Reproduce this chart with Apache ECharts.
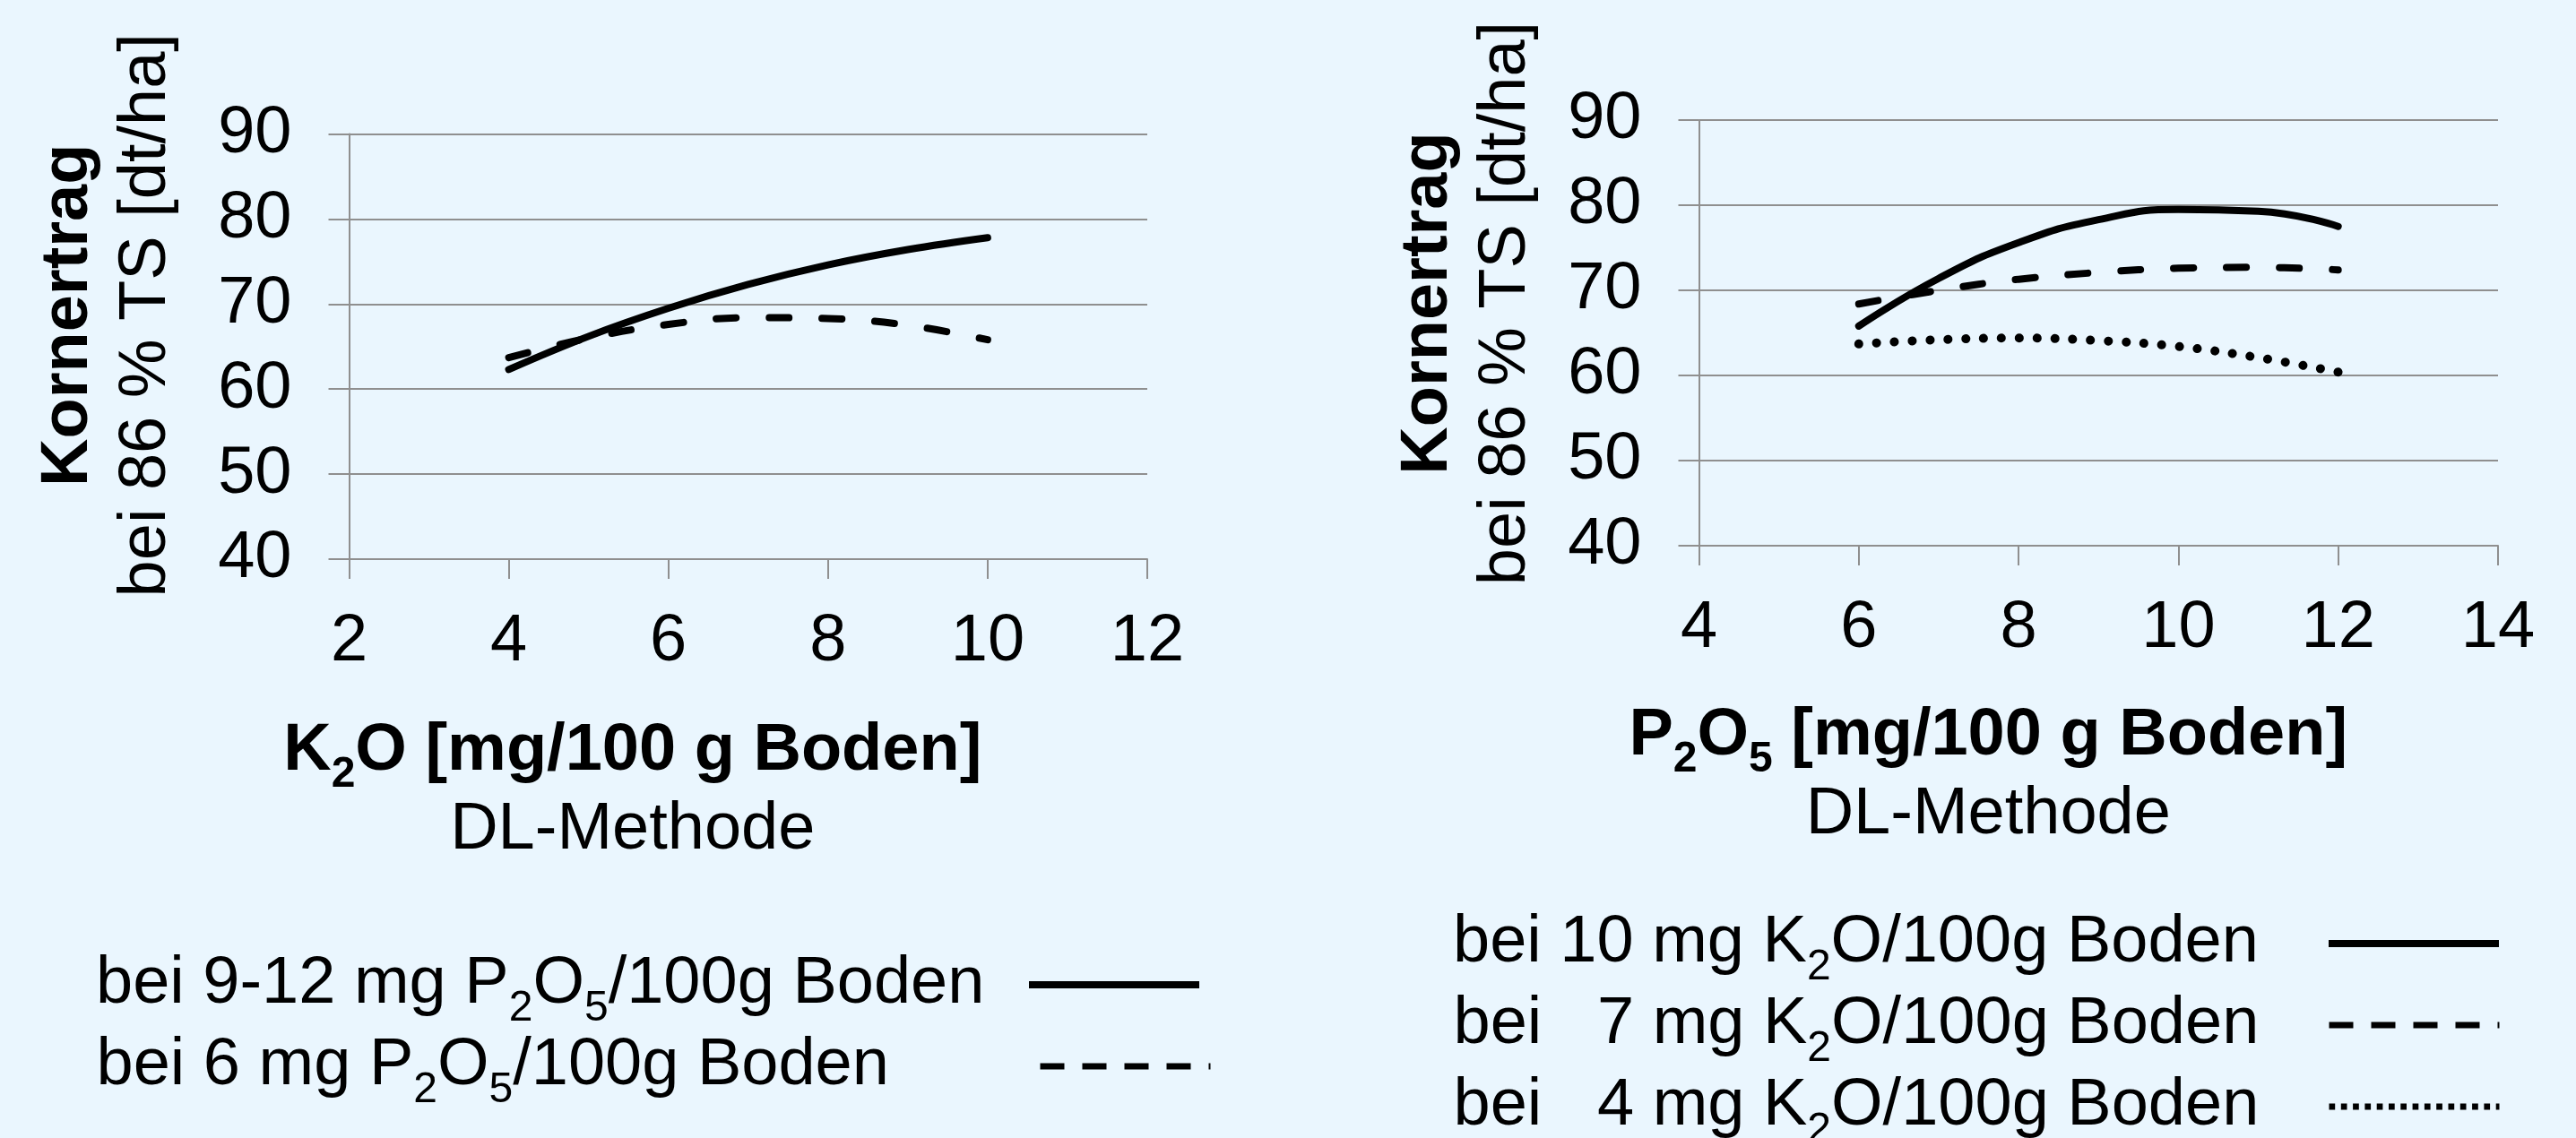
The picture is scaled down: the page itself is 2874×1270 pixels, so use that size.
<!DOCTYPE html>
<html>
<head>
<meta charset="utf-8">
<script src="https://cdn.jsdelivr.net/npm/echarts@6/dist/echarts.min.js"></script>
<style>
html,body{margin:0;padding:0;background:#EAF6FE;}
#c{width:2874px;height:1270px;}
</style>
</head>
<body>
<div id="c"></div>
<script>
// ---- data ----
const k2oLevels = [4, 5, 6, 7, 8, 9, 10];
const yieldHighP = [62.3, 66.2, 69.5, 72.3, 74.6, 76.4, 77.8];
const yieldLowP  = [63.7, 66.0, 67.6, 68.4, 68.3, 67.5, 65.8];

const p2o5Levels = [6, 7, 8, 9, 10, 11, 12];
const yieldK10 = [65.8, 71.4, 75.6, 78.3, 79.5, 79.3, 77.5];
const yieldK7  = [68.4, 70.0, 71.3, 72.1, 72.6, 72.7, 72.4];
const yieldK4  = [63.7, 64.2, 64.4, 64.1, 63.4, 62.1, 60.4];

const yTicks = [40, 50, 60, 70, 80, 90];
const k2oTicks = [2, 4, 6, 8, 10, 12];
const p2o5Ticks = [4, 6, 8, 10, 12, 14];

const namesLeft = ['bei 9-12 mg P2O5/100g Boden', 'bei 6 mg P2O5/100g Boden'];
const namesRight = ['bei 10 mg K2O/100g Boden', 'bei   7 mg K2O/100g Boden', 'bei   4 mg K2O/100g Boden'];
const yTitle = ['Kornertrag', 'bei 86 % TS [dt/ha]'];
const xTitleLeft = ['K2O [mg/100 g Boden]', 'DL-Methode'];
const xTitleRight = ['P2O5 [mg/100 g Boden]', 'DL-Methode'];

// ---- helpers ----
const FONT = '"Liberation Sans", Arial, sans-serif';
const zip = (xs, ys) => xs.map((x, i) => [x, ys[i]]);
// chemical formula: digit after uppercase letter -> subscript token
function richify(s, main, sub) {
  let out = '', buf = '';
  for (let i = 0; i < s.length; i++) {
    const ch = s[i];
    if (/\d/.test(ch) && i > 0 && /[A-Z]/.test(s[i - 1])) {
      if (buf) out += '{' + main + '|' + buf + '}';
      buf = '';
      out += '{' + sub + '|' + ch + '}';
    } else buf += ch;
  }
  if (buf) out += '{' + main + '|' + buf + '}';
  return out;
}

const GRID_COLOR = '#8f8f8f';

function xAxisDef(ticks, title, gridIdx, padRight, gap) {
  return {
    type: 'value', gridIndex: gridIdx,
    min: ticks[0], max: ticks[ticks.length - 1], interval: ticks[1] - ticks[0],
    axisLine: {show: true, onZero: false, lineStyle: {color: GRID_COLOR, width: 2}},
    axisTick: {show: true, length: 22, lineStyle: {color: GRID_COLOR, width: 2}},
    splitLine: {show: false},
    axisLabel: {fontSize: 74, fontFamily: FONT, color: '#000', margin: 56},
    name: richify(title[0], 'b', 'bs') + '\n{n|' + title[1] + '}',
    nameLocation: 'middle', nameGap: gap,
    nameTextStyle: {
      padding: [0, padRight, 0, 0],
      rich: {
        b: {fontSize: 74, fontWeight: 'bold', fontFamily: FONT, color: '#000', lineHeight: 88},
        bs: {fontSize: 48, fontWeight: 'bold', fontFamily: FONT, color: '#000', lineHeight: 36, height: 36, verticalAlign: 'bottom'},
        n: {fontSize: 74, fontFamily: FONT, color: '#000', lineHeight: 88}
      }
    }
  };
}
function yAxisDef(gridIdx, gap, padLeft) {
  return {
    type: 'value', gridIndex: gridIdx,
    min: yTicks[0], max: yTicks[yTicks.length - 1], interval: yTicks[1] - yTicks[0],
    axisLine: {show: true, lineStyle: {color: GRID_COLOR, width: 2}},
    axisTick: {show: true, length: 23, lineStyle: {color: GRID_COLOR, width: 2}},
    splitLine: {show: true, lineStyle: {color: GRID_COLOR, width: 2}},
    axisLabel: {fontSize: 74, fontFamily: FONT, color: '#000', margin: 64},
    name: '{b|' + yTitle[0] + '}\n{n|' + yTitle[1] + '}',
    nameLocation: 'middle', nameRotate: 90, nameGap: gap,
    nameTextStyle: {
      padding: [0, 0, 0, padLeft],
      rich: {
        b: {fontSize: 74, fontWeight: 'bold', fontFamily: FONT, color: '#000', lineHeight: 87},
        n: {fontSize: 74, fontFamily: FONT, color: '#000', lineHeight: 87}
      }
    }
  };
}

const legendRich = {
  t: {fontSize: 74, fontFamily: FONT, color: '#000', lineHeight: 80, align: 'left'},
  s: {fontSize: 48, fontFamily: FONT, color: '#000', lineHeight: 26, height: 26, verticalAlign: 'bottom', align: 'left'}
};
// one legend block per entry, so that each row sits where the reference puts it
function legendDef(item, right, top, textWidth) {
  return {
    orient: 'vertical', align: 'right', right: right, top: top, height: 300, padding: 0,
    itemWidth: 190, itemHeight: 14, itemGap: 0, selectedMode: false,
    formatter: (n) => richify(n, 't', 's'),
    textStyle: {fontSize: 74, fontFamily: FONT, color: '#000', width: textWidth, rich: legendRich},
    data: [item]
  };
}
const LEG_SOLID = {width: 8, type: 'solid', cap: 'butt'};
const LEG_DASHED = {width: 7, type: [27, 20], cap: 'butt'};
const LEG_DOTTED = {width: 7, type: [6.7, 6.6], cap: 'butt'};
const HIDE_SYMBOL = {opacity: 0};

const SOLID = {width: 8, type: 'solid', cap: 'round', color: '#000'};
const DASHED = {width: 8, type: [22, 37], cap: 'round', color: '#000'};
const DOTTED = {width: 10, type: [0.1, 19.8], cap: 'round', color: '#000'};

const option = {
  backgroundColor: '#EAF6FE',
  animation: false,
  grid: [
    {left: 389.5, top: 149.5, width: 890.5, height: 474.5},
    {left: 1895.5, top: 134, width: 891.5, height: 475}
  ],
  xAxis: [
    xAxisDef(k2oTicks, xTitleLeft, 0, 258, 171),
    xAxisDef(p2o5Ticks, xTitleRight, 1, 246, 169)
  ],
  yAxis: [yAxisDef(0, 182, 70), yAxisDef(1, 171, 66)],
  legend: [
    legendDef({name: namesLeft[0], lineStyle: LEG_SOLID, itemStyle: HIDE_SYMBOL}, 1532, 1062, 1036),
    legendDef({name: namesLeft[1], lineStyle: LEG_DASHED, itemStyle: HIDE_SYMBOL}, 1520, 1153, 1048),
    legendDef({name: namesRight[0], lineStyle: LEG_SOLID, itemStyle: HIDE_SYMBOL}, 82, 1016, 972),
    legendDef({name: namesRight[1], lineStyle: LEG_DASHED, itemStyle: HIDE_SYMBOL}, 82, 1107, 972),
    legendDef({name: namesRight[2], lineStyle: LEG_DOTTED, itemStyle: HIDE_SYMBOL}, 82, 1198, 972)
  ],
  series: [
    {type: 'line', name: namesLeft[0], xAxisIndex: 0, yAxisIndex: 0, data: zip(k2oLevels, yieldHighP), symbol: 'none', smooth: 0.4, lineStyle: SOLID, itemStyle: {color: '#000'}},
    {type: 'line', name: namesLeft[1], xAxisIndex: 0, yAxisIndex: 0, data: zip(k2oLevels, yieldLowP), symbol: 'none', smooth: 0.4, lineStyle: DASHED, itemStyle: {color: '#000'}},
    {type: 'line', name: namesRight[0], xAxisIndex: 1, yAxisIndex: 1, data: zip(p2o5Levels, yieldK10), symbol: 'none', smooth: 0.5, lineStyle: SOLID, itemStyle: {color: '#000'}},
    {type: 'line', name: namesRight[1], xAxisIndex: 1, yAxisIndex: 1, data: zip(p2o5Levels, yieldK7), symbol: 'none', smooth: 0.4, lineStyle: DASHED, itemStyle: {color: '#000'}},
    {type: 'line', name: namesRight[2], xAxisIndex: 1, yAxisIndex: 1, data: zip(p2o5Levels, yieldK4), symbol: 'none', smooth: 0.4, lineStyle: DOTTED, itemStyle: {color: '#000'}}
  ]
};

const chart = echarts.init(document.getElementById('c'), null, {renderer: 'canvas'});
chart.setOption(option);
</script>
</body>
</html>
